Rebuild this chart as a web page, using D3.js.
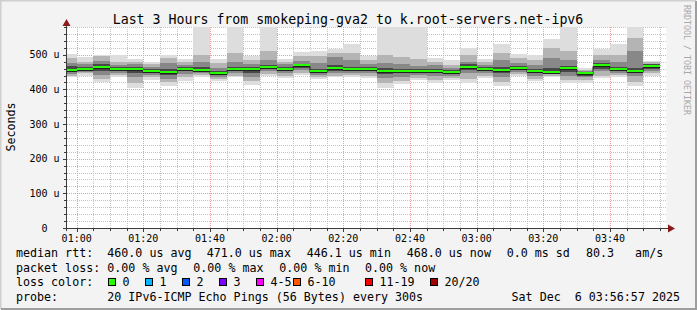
<!DOCTYPE html>
<html>
<head>
<meta charset="utf-8">
<script src="https://cdn.jsdelivr.net/npm/d3@7"></script>
<style>
  body { margin: 0; background: #f3f3f3; }
  svg { display: block; font-family: "DejaVu Sans Mono", monospace; }
  text { white-space: pre; }
</style>
</head>
<body>
<div id="chart"></div>
<script>
  // Data: one entry per 5 minute RRD step (start time, UTC)
  var slots = ["00:55","01:00","01:05","01:10","01:15","01:20","01:25","01:30","01:35","01:40",
               "01:45","01:50","01:55","02:00","02:05","02:10","02:15","02:20","02:25","02:30",
               "02:35","02:40","02:45","02:50","02:55","03:00","03:05","03:10","03:15","03:20",
               "03:25","03:30","03:35","03:40","03:45","03:50"];

  // median rtt (us)
  var median = [457,460,465,459,459,454,451,460,457,446, 460,460,465,460,470,454,462,459,460,454,
                454,454,454,451,466,460,457,462,454,451, 461,446.1,471,460,452,468];

  // smoke bands (sorted ping spread), outermost first
  var lo1 = [435,439,422,435,405,428,409,425,435,423, 435,414,439,434,442,430,435,435,432,405,
             415,428,418,428,417,432,409,439,423,435, 418,418,432,435,409,439];
  var hi1 = [503,492,500,500,488,480,500,488,580,488, 580,497,580,489,509,512,517,530,497,580,
             580,580,491,486,520,489,530,503,499,546, 580,461,517,530,580,482];
  var lo2 = [440,446,430,442,418,436,420,436,442,430, 440,424,445,440,447,436,440,442,438,418,
             424,434,428,434,430,440,420,444,430,440, 428,428,440,441,422,446];
  var hi2 = [490,480,496,478,480,474,490,478,500,476, 505,486,510,480,496,496,505,506,486,500,
             492,488,480,470,500,478,505,490,484,520, 510,456,498,500,548,478];
  var lo3 = [445,450,442,448,435,442,430,445,447,437, 448,436,452,446,455,442,446,447,446,432,
             436,442,438,440,446,446,436,450,440,445, 440,436,452,447,440,452];
  var hi3 = [476,472,482,470,472,466,476,470,480,462, 478,474,486,472,482,476,492,486,474,476,
             472,468,470,462,480,470,484,476,470,490, 484,452,486,478,510,474];
  var lo4 = [450,455,452,453,448,447,442,452,452,441, 453,448,458,452,462,448,454,452,452,444,
             446,448,446,445,456,453,448,456,447,448, 450,440,460,453,446,460];
  var hi4 = [468,465,473,464,466,460,458,465,466,452, 466,466,470,465,474,460,470,466,466,462,
             460,460,460,456,472,465,464,468,460,462, 468,450,476,466,462,472];

  var smokeColors = ["#dddddd", "#b4b4b4", "#888888", "#484848"];

  // Axis ticks
  var yTicks = [0, 100, 200, 300, 400, 500];
  var xTickLabels = ["01:00","01:20","01:40","02:00","02:20","02:40","03:00","03:20","03:40"];

  // Legend content
  var titleText = "Last 3 Hours from smokeping-gva2 to k.root-servers.net-ipv6";
  var rttItems = ["median rtt:", "460.0 us avg", "471.0 us max", "446.1 us min", "468.0 us now", "0.0 ms sd", "80.3   am/s"];
  var lossItems = ["packet loss:", "0.00 % avg", "0.00 % max", "0.00 % min", "0.00 % now"];
  var lossLabels = ["0", "1", "2", "3", "4-5", "6-10", "11-19", "20/20"];
  var lossColors = ["#26ff00", "#00b8ff", "#0059ff", "#7e00ff", "#ff00ff", "#ff5500", "#ff0000", "#a00000"];
  var probeText = "20 IPv6-ICMP Echo Pings (56 Bytes) every 300s";
  var stampText = "Sat Dec  6 03:56:57 2025";

  var W = 697, H = 310;
  var plot = { left: 66.5, right: 666.5, top: 27, bottom: 228 };

  var parseT = d3.utcParse("%Y-%m-%d %H:%M");
  var day = "2025-12-06 ";

  var x = d3.scaleUtc()
            .domain([new Date(Date.UTC(2025, 11, 6, 0, 56, 57)), new Date(Date.UTC(2025, 11, 6, 3, 56, 57))])
            .range([plot.left, plot.right]);
  var y = d3.scaleLinear().domain([0, 580]).range([plot.bottom, plot.top]).clamp(true);

  var svg = d3.select("#chart").append("svg").attr("width", W).attr("height", H);

  // Background + 3D frame
  svg.append("rect").attr("width", W).attr("height", H).attr("fill", "#f3f3f3");
  svg.append("path").attr("d", "M0.5," + (H - 1) + "V0.5H" + (W - 1)).attr("stroke", "#cfcfcf").attr("stroke-width", 2).attr("fill", "none");
  svg.append("path").attr("d", "M1," + (H - 1) + "H" + (W - 1) + "V1").attr("stroke", "#9e9e9e").attr("stroke-width", 2).attr("fill", "none");

  // Canvas
  svg.append("rect").attr("x", plot.left).attr("y", plot.top)
     .attr("width", plot.right - plot.left).attr("height", plot.bottom - plot.top).attr("fill", "#ffffff");

  svg.append("clipPath").attr("id", "clip").append("rect")
     .attr("x", plot.left).attr("y", plot.top)
     .attr("width", plot.right - plot.left).attr("height", plot.bottom - plot.top);

  var crisp = function(v) { return Math.round(v) + 0.5; };

  // Grid (dashes start on whole pixels so the dots stay crisp)
  var grid = svg.append("g");
  var minorY = d3.range(20, 581, 20).filter(function(v) { return v % 100 !== 0; });
  var majorY = yTicks.filter(function(v) { return v > 0; });
  var minorX = x.ticks(d3.utcMinute.every(5));
  var majorX = xTickLabels.map(function(t) { return parseT(day + t); });

  grid.selectAll("line.minY").data(minorY).enter().append("line")
      .attr("x1", 67).attr("x2", 667)
      .attr("y1", function(d) { return crisp(y(d)); }).attr("y2", function(d) { return crisp(y(d)); })
      .attr("stroke", "#c4c4c4").attr("stroke-dasharray", "1,1");
  grid.selectAll("line.minX").data(minorX).enter().append("line")
      .attr("y1", plot.top).attr("y2", plot.bottom)
      .attr("x1", function(d) { return crisp(x(d)); }).attr("x2", function(d) { return crisp(x(d)); })
      .attr("stroke", "#c4c4c4").attr("stroke-dasharray", "1,1");
  grid.selectAll("line.majY").data(majorY).enter().append("line")
      .attr("x1", 67).attr("x2", 667)
      .attr("y1", function(d) { return crisp(y(d)); }).attr("y2", function(d) { return crisp(y(d)); })
      .attr("stroke", "#f19a9a").attr("stroke-dasharray", "1,1");
  grid.selectAll("line.majX").data(majorX).enter().append("line")
      .attr("y1", plot.top).attr("y2", plot.bottom)
      .attr("x1", function(d) { return crisp(x(d)); }).attr("x2", function(d) { return crisp(x(d)); })
      .attr("stroke", "#f19a9a").attr("stroke-dasharray", "1,1");

  // Smoke
  var bars = slots.map(function(s, i) {
    var t0 = parseT(day + s);
    return { t0: t0, t1: d3.utcMinute.offset(t0, 5), med: median[i],
             bands: [[lo1[i], hi1[i]], [lo2[i], hi2[i]], [lo3[i], hi3[i]], [lo4[i], hi4[i]]] };
  });

  var smoke = svg.append("g").attr("clip-path", "url(#clip)");
  bars.forEach(function(b) {
    var x0 = Math.round(x(b.t0)), x1 = Math.round(x(b.t1));
    b.bands.forEach(function(band, j) {
      var y0 = Math.round(y(band[1])), y1 = Math.round(y(band[0]));
      smoke.append("rect").attr("x", x0).attr("width", x1 - x0)
           .attr("y", y0).attr("height", y1 - y0).attr("fill", smokeColors[j]);
    });
  });

  // Median: dark step line, then loss-coloured segments
  var stepPts = bars.map(function(b) { return [b.t0, b.med]; });
  stepPts.push([bars[bars.length - 1].t1, bars[bars.length - 1].med]);
  smoke.append("path")
       .attr("d", d3.line().curve(d3.curveStepAfter)
                  .x(function(d) { return Math.round(x(d[0])); })
                  .y(function(d) { return Math.round(y(d[1])) + 1.5; })(stepPts))
       .attr("fill", "none").attr("stroke", "#202020").attr("stroke-width", 1);
  smoke.selectAll("rect.med").data(bars).enter().append("rect")
       .attr("x", function(d) { return Math.round(x(d.t0)); })
       .attr("width", function(d) { return Math.round(x(d.t1)) - Math.round(x(d.t0)); })
       .attr("y", function(d) { return Math.round(y(d.med)) - 1; })
       .attr("height", 2)
       .attr("fill", lossColors[0]);

  // Axes
  var axisColor = "#3a3a3a", arrowColor = "#8b1a1a";
  var ax = svg.append("g").attr("fill", "none").attr("stroke", axisColor);
  ax.append("line").attr("x1", 63).attr("x2", 670).attr("y1", 228.5).attr("y2", 228.5);
  ax.append("line").attr("x1", plot.left).attr("x2", plot.left).attr("y1", 231).attr("y2", 24);
  ax.selectAll("line.ty").data(d3.range(20, 581, 20)).enter().append("line")
    .attr("x1", function(d) { return d % 100 === 0 ? 63 : 64; }).attr("x2", plot.left)
    .attr("y1", function(d) { return crisp(y(d)); }).attr("y2", function(d) { return crisp(y(d)); });
  ax.selectAll("line.tx").data(minorX).enter().append("line")
    .attr("y1", 228.5).attr("y2", function(d) { return d.getUTCMinutes() % 20 === 0 ? 232 : 231; })
    .attr("x1", function(d) { return crisp(x(d)); }).attr("x2", function(d) { return crisp(x(d)); });
  svg.append("path").attr("d", "M62.5,26L66.5,19L70.5,26Z").attr("fill", arrowColor);
  svg.append("path").attr("d", "M668,224.5L675,228.5L668,232.5Z").attr("fill", arrowColor);

  // Tick labels
  var fmt = d3.utcFormat("%H:%M");
  svg.selectAll("text.xl").data(majorX).enter().append("text")
     .attr("x", function(d) { return x(d); }).attr("y", 241.5)
     .attr("text-anchor", "middle").attr("font-size", "10px").attr("fill", "#000")
     .text(function(d) { return fmt(d); });
  svg.selectAll("text.yl").data(yTicks).enter().append("text")
     .attr("x", 59.5).attr("y", function(d) { return y(d) + 3.5; })
     .attr("text-anchor", "end").attr("font-size", "10px").attr("fill", "#000")
     .text(function(d) { return d === 0 ? "0  " : d + " u"; });

  // Title and axis label
  svg.append("text").attr("x", 348).attr("y", 23.5).attr("text-anchor", "middle")
     .attr("font-size", "13.25px").attr("fill", "#000").text(titleText);
  svg.append("text").attr("transform", "translate(14.5,127) rotate(-90)").attr("text-anchor", "middle")
     .attr("font-size", "11.67px").attr("fill", "#000").text("Seconds");
  svg.append("text").attr("transform", "translate(683.5,5) rotate(90)")
     .attr("font-size", "8.3px").attr("fill", "#a8a8a8").text("RRDTOOL / TOBI OETIKER");

  // Legend
  var leg = svg.append("g").attr("font-size", "11.67px").attr("fill", "#000");
  var rttX = [16, 107.3, 206.7, 306.7, 406.7, 506.7, 586];
  rttItems.forEach(function(t, i) { leg.append("text").attr("x", rttX[i]).attr("y", 257).text(t); });
  var lossX = [16, 107.3, 193.3, 279.3, 365];
  lossItems.forEach(function(t, i) { leg.append("text").attr("x", lossX[i]).attr("y", 271.5).text(t); });

  leg.append("text").attr("x", 16).attr("y", 286).text("loss color:");
  var boxX = [108.5, 145.5, 182.5, 219.5, 256.5, 293.5, 365.5, 430.5];
  lossLabels.forEach(function(t, i) {
    leg.append("rect").attr("x", boxX[i]).attr("y", 278.5).attr("width", 7).attr("height", 7)
       .attr("fill", lossColors[i]).attr("stroke", "#000").attr("stroke-width", 1);
    leg.append("text").attr("x", boxX[i] + 14).attr("y", 286).text(t);
  });

  leg.append("text").attr("x", 16).attr("y", 300.5).text("probe:");
  leg.append("text").attr("x", 107.3).attr("y", 300.5).text(probeText);
  leg.append("text").attr("x", 680).attr("y", 300.5).attr("text-anchor", "end").text(stampText);
</script>
</body>
</html>
